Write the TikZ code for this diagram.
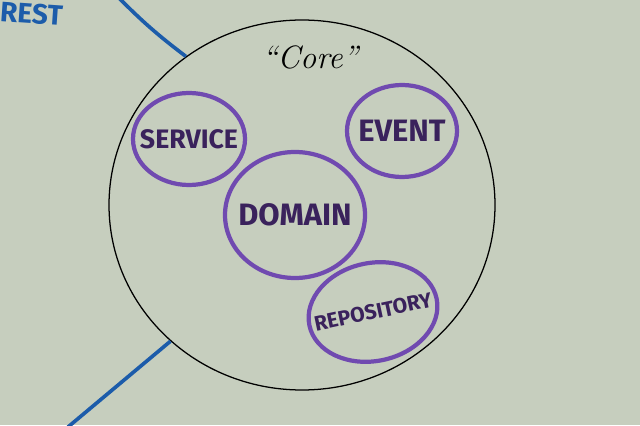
\documentclass[tikz,border=0pt]{standalone}
\usepackage{fontspec}
\newfontfamily\markerfont{Fira Sans}
\definecolor{boardgreen}{RGB}{198, 206, 190}
\definecolor{markerpurple}{RGB}{112, 74, 176}
\definecolor{inkpurple}{RGB}{58, 34, 92}
\definecolor{markerblue}{RGB}{28, 92, 170}
\usetikzlibrary{
    shapes.geometric,
    positioning,
    calc
}

\begin{document}
\begin{tikzpicture}
        % whiteboard
        \fill[boardgreen] (0,0) rectangle (16,10.625);
        \useasboundingbox (0,0) rectangle (16,10.625);
        \clip (0,0) rectangle (16,10.625);

        % REST scribble in the corner
        \node[markerblue, font=\markerfont\bfseries\fontsize{20}{20}\selectfont, anchor=north west,
              inner sep=0pt, rotate=-4] (rest) at (0.02,10.6) {REST};

        % The core
        \node[draw=black, ellipse, line width=0.9pt, minimum width=9.65cm, minimum height=9.25cm,
              inner sep=0pt] (core) at (7.55,5.5) {};
        \node[font=\fontsize{23}{26}\selectfont\itshape] (corelabel) at (7.75,9.2) {``Core''};

        % Things living in the core
        \foreach \name/\txt/\x/\y/\w/\h/\rot/\sz in {
            service/SERVICE/4.725/7.15/2.8/2.3/0/19,
            event/EVENT/10.05/7.35/2.75/2.3/0/22,
            domain/DOMAIN/7.375/5.25/3.5/3.15/0/22,
            repository/REPOSITORY/9.325/2.825/3.25/2.45/12/15} {
            \node[draw=markerpurple, ellipse, line width=3pt, minimum width=\w cm, minimum height=\h cm,
                  inner sep=0pt, rotate=\rot,
                  label={[text=inkpurple, rotate=\rot,
                          font=\markerfont\bfseries\fontsize{\sz}{\sz}\selectfont]center:\txt}]
                  (\name) at (\x,\y) {};
        }

        % Lines from the outside
        \coordinate (restTop) at (2.95,10.7);
        \coordinate (restBottom) at (1.7,-0.05);
        \draw[markerblue, line width=2.6pt] (restTop) to[bend right=4] (core.128);
        \draw[markerblue, line width=2.6pt] (restBottom) -- (core.226);
    \end{tikzpicture}
\end{document}
